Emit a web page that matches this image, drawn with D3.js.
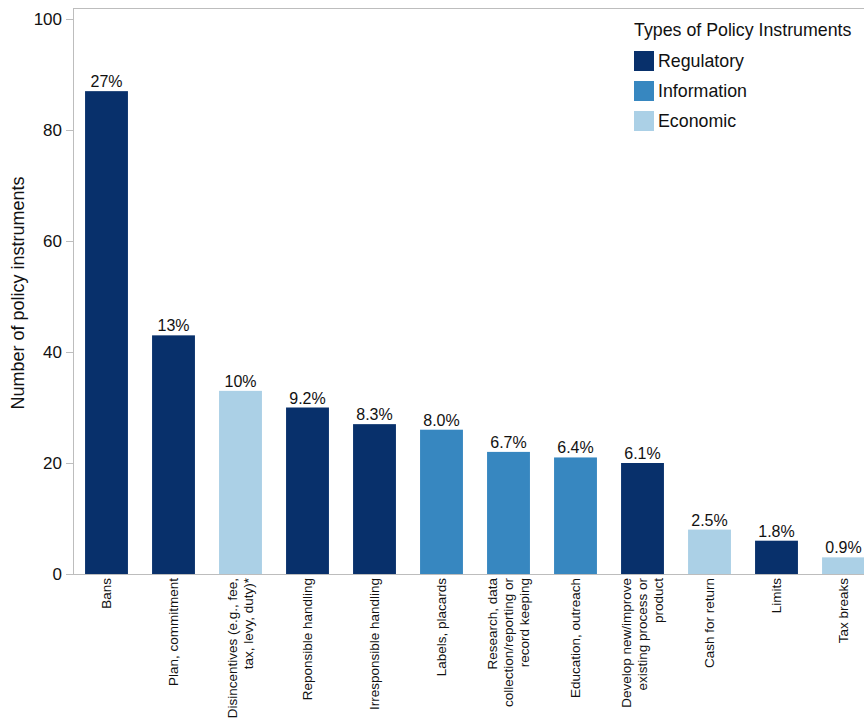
<!DOCTYPE html>
<html>
<head>
<meta charset="utf-8">
<script src="https://cdn.jsdelivr.net/npm/d3@7"></script>
<style>
  body { margin: 0; background: #fff; }
  svg { display: block; font-family: "Liberation Sans", Arial, Helvetica, sans-serif; }
</style>
</head>
<body>
<div id="vis"></div>
<script>
// datos del grafico
const categories = [
  ["Bans"],
  ["Plan, commitment"],
  ["Disincentives (e.g., fee,", "tax, levy, duty)*"],
  ["Reponsible handling"],
  ["Irresponsible handling"],
  ["Labels, placards"],
  ["Research, data", "collection/reporting or", "record keeping"],
  ["Education, outreach"],
  ["Develop new/improve", "existing process or", "product"],
  ["Cash for return"],
  ["Limits"],
  ["Tax breaks"]
];
const counts = [87, 43, 33, 30, 27, 26, 22, 21, 20, 8, 6, 3];
const pctLabels = ["27%", "13%", "10%", "9.2%", "8.3%", "8.0%", "6.7%", "6.4%", "6.1%", "2.5%", "1.8%", "0.9%"];
const types = ["Regulatory", "Regulatory", "Economic", "Regulatory", "Regulatory", "Information",
  "Information", "Information", "Regulatory", "Economic", "Regulatory", "Economic"];
const typeNames = ["Regulatory", "Information", "Economic"];
const typeColors = ["#08306b", "#3787c0", "#abd0e6"];
const yTicks = [0, 20, 40, 60, 80, 100];

const width = 864;
const height = 723;
const margin = { top: 8, left: 73, bottom: 149 };
const y0 = height - margin.bottom; // 574

const svg = d3.select("#vis")
  .append("svg")
  .attr("width", width)
  .attr("height", height);

const x = d3.scaleBand()
  .domain(d3.range(categories.length))
  .range([margin.left, margin.left + 67 * categories.length])
  .paddingInner(0.36)
  .paddingOuter(0.18);

const y = d3.scaleLinear()
  .domain([0, 100])
  .range([y0, 19]);

const color = d3.scaleOrdinal().domain(typeNames).range(typeColors);

// marco
svg.append("line")
  .attr("x1", margin.left).attr("x2", width)
  .attr("y1", margin.top + 0.5).attr("y2", margin.top + 0.5)
  .attr("stroke", "#bdbdbd");
svg.append("line")
  .attr("x1", margin.left + 0.5).attr("x2", margin.left + 0.5)
  .attr("y1", margin.top).attr("y2", y0)
  .attr("stroke", "#bdbdbd");

// barras
svg.selectAll("rect.bar")
  .data(counts)
  .enter()
  .append("rect")
  .attr("class", "bar")
  .attr("x", (_d, i) => x(i))
  .attr("y", d => y(d))
  .attr("width", x.bandwidth())
  .attr("height", d => y0 - y(d))
  .attr("fill", (_d, i) => color(types[i]));

svg.selectAll("text.pct")
  .data(counts)
  .enter()
  .append("text")
  .attr("class", "pct")
  .attr("x", (_d, i) => x(i) + x.bandwidth() / 2)
  .attr("y", d => y(d) - 4)
  .attr("text-anchor", "middle")
  .attr("font-size", 16)
  .attr("fill", "#111")
  .text((_d, i) => pctLabels[i]);

// eje x
svg.append("line")
  .attr("x1", margin.left).attr("x2", width)
  .attr("y1", y0 + 0.5).attr("y2", y0 + 0.5)
  .attr("stroke", "#bdbdbd");

const xLabels = svg.selectAll("g.xlab")
  .data(categories)
  .enter()
  .append("g")
  .attr("class", "xlab")
  .attr("transform", (_d, i) => `translate(${x(i) + x.bandwidth() / 2},${y0 + 4}) rotate(-90)`);

const lineGap = 16;
xLabels.each(function (lines) {
  const g = d3.select(this);
  const off = -(lines.length - 1) / 2 * lineGap;
  lines.forEach((t, k) => {
    g.append("text")
      .attr("x", 0)
      .attr("y", off + k * lineGap)
      .attr("dy", "0.35em")
      .attr("text-anchor", "end")
      .attr("font-size", 13.5)
      .attr("fill", "#111")
      .text(t);
  });
});

// eje y
const yAxis = svg.append("g")
  .attr("transform", `translate(${margin.left},0)`)
  .call(d3.axisLeft(y).tickValues(yTicks).tickSize(7).tickPadding(4));
yAxis.select(".domain").remove();
yAxis.selectAll("line").attr("stroke", "#bdbdbd");
yAxis.selectAll("text").attr("font-size", 17).attr("fill", "#111")
  .attr("font-family", "Liberation Sans, Arial, sans-serif");

svg.append("text")
  .attr("transform", `translate(24,293) rotate(-90)`)
  .attr("text-anchor", "middle")
  .attr("font-size", 18)
  .attr("fill", "#111")
  .text("Number of policy instruments");

// leyenda
const legend = svg.append("g").attr("transform", "translate(634,0)");
legend.append("text")
  .attr("x", 0).attr("y", 36)
  .attr("font-size", 17.8)
  .attr("fill", "#111")
  .text("Types of Policy Instruments");

const items = legend.selectAll("g.item")
  .data(typeNames)
  .enter()
  .append("g")
  .attr("class", "item")
  .attr("transform", (_d, i) => `translate(0,${51 + i * 30})`);
items.append("rect")
  .attr("width", 20).attr("height", 20)
  .attr("fill", d => color(d));
items.append("text")
  .attr("x", 24).attr("y", 16)
  .attr("font-size", 17.8)
  .attr("fill", "#111")
  .text(d => d);
</script>
</body>
</html>
